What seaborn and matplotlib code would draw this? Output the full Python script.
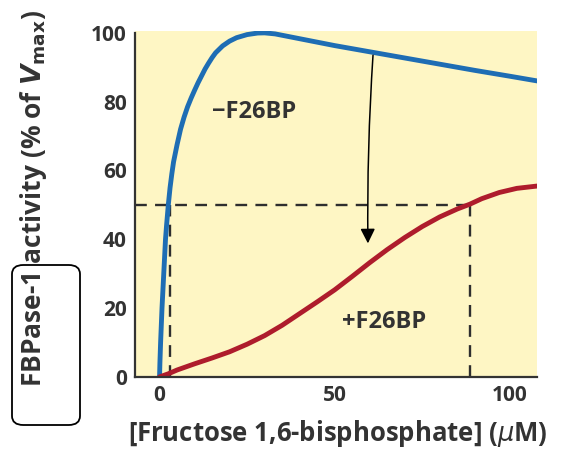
import numpy as np
import pandas as pd
import matplotlib
matplotlib.use("Agg")
import matplotlib.pyplot as plt
import seaborn as sns
from matplotlib.patches import FancyBboxPatch

# curve without F26BP (blue)
minus_x = [0, 0.1, 0.3, 0.5, 0.7, 1.0, 1.3, 1.7, 2.0, 2.5, 3.0, 3.5, 4.0, 5.0, 6.0, 7.0, 8.0, 9.0, 10, 11, 12, 13, 14, 15, 16,
           18, 20, 22, 25, 28, 30, 33, 36, 40, 45, 50, 60, 70, 80, 90, 100, 108]
minus_y = [0, 4, 10, 15, 20, 26, 32, 40, 44, 50, 55, 59, 62.5, 67.5, 72, 75.5, 78.5, 81, 83.3, 85.5, 87.5, 89.5, 91.2, 92.8, 94.2,
           96.2, 97.6, 98.6, 99.5, 99.95, 100, 99.7, 99.1, 98.3, 97.3, 96.3, 94.5, 92.7, 90.9, 89.1, 87.4, 86]
# curve with F26BP (red)
plus_x = [0, 2.5, 5, 7.5, 10, 15, 20, 25, 30, 35, 40, 45, 50, 55, 60, 65, 70, 75, 80, 85, 88.6, 92, 97, 102, 108]
plus_y = [0, 0.9, 2.0, 2.9, 3.8, 5.5, 7.3, 9.5, 12, 15, 18.4, 21.8, 25.3, 29.2, 33.2, 37, 40.5, 43.7, 46.5, 48.8, 50.2, 51.8,
          53.6, 54.8, 55.5]
half_y = 50
half_minus_x = 3.0
half_plus_x = 88.6
xticks = [0, 50, 100]
yticks = [0, 20, 40, 60, 80, 100]

sns.set_style("white")
plt.rcParams['font.family'] = ['Open Sans', 'DejaVu Sans']
plt.rcParams['mathtext.fontset'] = 'dejavusans'

dark = "#333333"
fig = plt.figure(figsize=(5.65, 4.53), dpi=100)
ax = fig.add_axes([0.239, 0.168, 0.711, 0.764])
ax.set_facecolor("#fef6c4")

df = pd.concat([
    pd.DataFrame({"x": minus_x, "y": minus_y, "cond": "-F26BP"}),
    pd.DataFrame({"x": plus_x, "y": plus_y, "cond": "+F26BP"}),
])
sns.lineplot(data=df, x="x", y="y", hue="cond", palette={"-F26BP": "#1e6db4", "+F26BP": "#ae1c2c"},
             linewidth=3.5, legend=False, ax=ax, sort=False, estimator=None)

dash = dict(color="#2e2e2e", lw=1.7, dashes=(5, 3.5), zorder=1)
ax.plot([-7, half_plus_x], [half_y, half_y], **dash)
ax.plot([half_minus_x, half_minus_x], [0, half_y], **dash)
ax.plot([half_plus_x, half_plus_x], [0, half_y], **dash)

ax.text(27, 77, "\u2212F26BP", fontsize=17, fontweight="bold", color=dark, ha="center", va="center")
ax.text(64, 16, "+F26BP", fontsize=17, fontweight="bold", color=dark, ha="center", va="center")

# hand drawn arrow
ax.annotate("", xy=(59.5, 38), xytext=(61, 94.3),
            arrowprops=dict(arrowstyle="-|>", color="black", lw=1.1, mutation_scale=22,
                            connectionstyle="arc3,rad=0.02"))

ax.set_xlim(-7, 107.7)
ax.set_ylim(0, 100.6)
ax.set_xticks(xticks)
ax.set_yticks(yticks)
ax.tick_params(direction="in", length=7, width=1.6, color=dark, labelsize=15, labelcolor=dark, pad=6)
for lab in ax.get_xticklabels() + ax.get_yticklabels():
    lab.set_fontweight("bold")
for s in ["top", "right"]:
    ax.spines[s].set_visible(False)
for s in ["left", "bottom"]:
    ax.spines[s].set_color(dark)
    ax.spines[s].set_linewidth(1.6)
ax.spines["left"].set_bounds(0, 100)

ax.set_xlabel(r"[Fructose 1,6-bisphosphate] ($\mathit{\mu}$M)", fontsize=18.5, fontweight="bold", color=dark)
ax.set_ylabel(r"FBPase-1 activity (% of $\mathbfit{V}_{\mathbf{max}}$)", fontsize=19, fontweight="bold", color=dark)
ax.xaxis.set_label_coords(0.505, -0.12)
ax.yaxis.set_label_coords(-0.215, 0.515)

box = FancyBboxPatch((12 / 565, 1 - 425 / 453), 68 / 565, 160 / 453, boxstyle="round,pad=0,rounding_size=0.02",
                     transform=fig.transFigure, fill=False, ec="black", lw=1.3)
fig.patches.append(box)

fig.savefig("out.png", dpi=100)
